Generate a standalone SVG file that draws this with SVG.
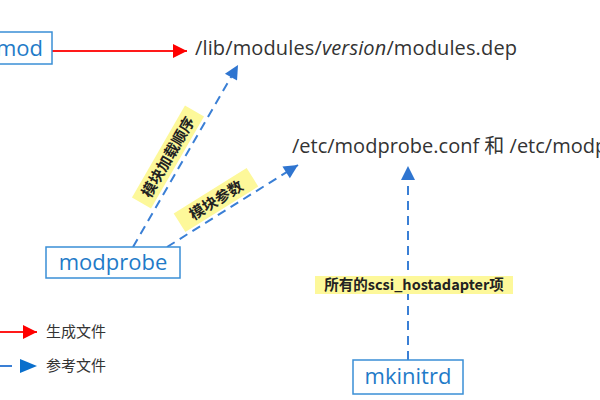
<svg xmlns="http://www.w3.org/2000/svg" width="600" height="400" viewBox="0 0 600 400">
<defs>
<style>
.box{fill:#fff;stroke:#3a8fd6;stroke-width:1.5}
.bt{font-family:"Open Sans","Noto Sans",sans-serif;font-size:22px;fill:#1f7bc8}
.pt{font-family:"Open Sans","Noto Sans","Noto Sans CJK SC",sans-serif;font-size:20px;fill:#333}
.red{stroke:#ff1a1a;stroke-width:2;fill:none}
.blue{stroke:#3a7fd5;stroke-width:2;fill:none;stroke-dasharray:9 6}
.lbl{font-family:"Noto Sans CJK SC","Noto Sans",sans-serif;font-weight:bold;fill:#222}
.hl{fill:#fdf89a}
.lg{font-family:"Noto Sans CJK SC",sans-serif;font-size:15px;fill:#333}
</style>
<marker id="ar" viewBox="0 0 10 10" refX="10" refY="5" markerWidth="18" markerHeight="14" markerUnits="userSpaceOnUse" orient="auto"><path d="M0,0 L10,5 L0,10 z" fill="#ff0000"/></marker>
<marker id="ab" viewBox="0 0 10 10" refX="10" refY="5" markerWidth="18" markerHeight="14" markerUnits="userSpaceOnUse" orient="auto"><path d="M0,0 L10,5 L0,10 z" fill="#2f75d0"/></marker>
</defs>
<rect width="600" height="400" fill="#fff"/>
<g id="connectors">
<line class="red" x1="52" y1="51" x2="187" y2="51" marker-end="url(#ar)"/>
<line class="blue" x1="133" y1="247" x2="238" y2="65" marker-end="url(#ab)"/>
<line class="blue" x1="167" y1="247" x2="298" y2="165" marker-end="url(#ab)"/>
<line class="blue" x1="408" y1="360" x2="408" y2="166" marker-end="url(#ab)"/>
</g>
<g id="label-order" transform="translate(168,157) rotate(-60)">
<rect class="hl" x="-53" y="-11" width="106" height="22"/>
<text class="lbl" x="0" y="5.5" text-anchor="middle" font-size="15">模块加载顺序</text>
</g>
<g id="label-params" transform="translate(216,200) rotate(-32)">
<rect class="hl" x="-43" y="-11" width="86" height="22"/>
<text class="lbl" x="0" y="5.5" text-anchor="middle" font-size="15">模块参数</text>
</g>
<g id="label-scsi">
<rect class="hl" x="315" y="276" width="198" height="18"/>
<text class="lbl" x="414" y="290" text-anchor="middle" font-size="14.5">所有的scsi_hostadapter项</text>
</g>
<g id="depmod">
<rect class="box" x="-10" y="32" width="62" height="32"/>
<text class="bt" x="43" y="56" text-anchor="end">mod</text>
</g>
<g id="modules-dep">
<text class="pt" x="195" y="55" textLength="322">/lib/modules/<tspan font-style="italic">version</tspan>/modules.dep</text>
</g>
<g id="modprobe-conf">
<text class="pt" x="292" y="153">/etc/modprobe.conf 和 /etc/modp</text>
</g>
<g id="modprobe">
<rect class="box" x="46" y="247" width="134" height="31"/>
<text class="bt" x="113" y="270" text-anchor="middle">modprobe</text>
</g>
<g id="mkinitrd">
<rect class="box" x="353" y="360" width="110" height="34"/>
<text class="bt" x="408" y="384" text-anchor="middle">mkinitrd</text>
</g>
<g id="legend">
<line class="red" x1="-5" y1="332" x2="37" y2="332" marker-end="url(#ar)"/>
<text class="lg" x="46" y="337">生成文件</text>
<line x1="-5" y1="366" x2="12" y2="366" stroke="#3a7fd5" stroke-width="2"/>
<path d="M20,359 L37,366 L20,373 z" fill="#0a6fcc"/>
<text class="lg" x="46" y="371">参考文件</text>
</g>
</svg>
